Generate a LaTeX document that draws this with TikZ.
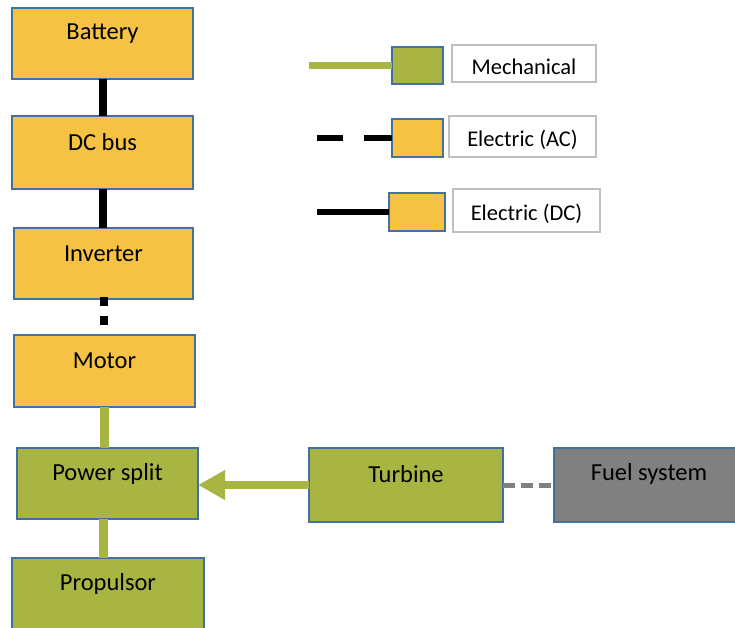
\documentclass[tikz,border=0pt]{standalone}
\usepackage{fontspec}
\setmainfont{Carlito}
\usetikzlibrary{arrows.meta}
\definecolor{gold}{HTML}{F5C243}
\definecolor{olive}{HTML}{A9B542}
\definecolor{fuelgray}{HTML}{808080}
\definecolor{edge}{HTML}{41719C}
\definecolor{lblgray}{HTML}{BFBFBF}
\begin{document}
\begin{tikzpicture}[x=1pt,y=-1pt,
  blk/.style={draw=edge, line width=1.8pt, inner sep=0pt, outer sep=0pt, anchor=north west},
  txt/.style={anchor=center, yshift=-26pt, font=\fontsize{24.5}{28}\selectfont, text=black},
  lbl/.style={draw=lblgray, line width=1.5pt, fill=white, inner sep=0pt, outer sep=0pt, anchor=north west},
  lbltxt/.style={anchor=center, yshift=-3pt, font=\fontsize{22.5}{26}\selectfont, text=black},
  dcline/.style={line width=8pt, black, line cap=butt},
  acline/.style={line width=8pt, black, line cap=butt, dash pattern=on 9pt off 10pt},
  mechline/.style={line width=9pt, olive, line cap=butt},
  fuelline/.style={line width=5pt, fuelgray, line cap=butt, dash pattern=on 12pt off 6pt},
  legline/.style={line width=6.5pt, line cap=butt}]
\useasboundingbox (0,0) rectangle (735,627);
\clip (0,0) rectangle (735,627);

\coordinate (cM) at (309,65.5);
\coordinate (cA) at (317,138);
\coordinate (cD) at (317,212);

% main boxes
\node[blk, fill=gold, minimum width=181pt, minimum height=71pt, label={[txt]north:Battery}] (bat) at (12,8) {};
\node[blk, fill=gold, minimum width=181pt, minimum height=73pt, label={[txt]north:DC bus}] (dc) at (12,116) {};
\node[blk, fill=gold, minimum width=179pt, minimum height=71pt, label={[txt]north:Inverter}] (inv) at (14,228) {};
\node[blk, fill=gold, minimum width=181pt, minimum height=72pt, label={[txt]north:Motor}] (mot) at (14,335) {};
\node[blk, fill=olive, minimum width=181pt, minimum height=71pt, label={[txt]north:Power split}] (ps) at (17,448) {};
\node[blk, fill=olive, minimum width=192pt, minimum height=100pt, label={[txt]north:Propulsor}] (prop) at (12,558) {};
\node[blk, fill=olive, minimum width=194pt, minimum height=74pt, label={[txt]north:Turbine}] (turb) at (309,448) {};
\node[blk, fill=fuelgray, minimum width=190pt, minimum height=74pt, label={[txt]north:Fuel system}] (fuel) at (554,448) {};

% legend
\node[blk, fill=olive, minimum width=51pt, minimum height=37pt] (sqM) at (392,47) {};
\node[lbl, minimum width=144pt, minimum height=37pt, label={[lbltxt]center:Mechanical}] (lblM) at (452,45) {};
\node[blk, fill=gold, minimum width=51pt, minimum height=38pt] (sqA) at (392,119) {};
\node[lbl, minimum width=147pt, minimum height=41pt, label={[lbltxt]center:Electric (AC)}] (lblA) at (449,116) {};
\node[blk, fill=gold, minimum width=56pt, minimum height=38pt] (sqD) at (389,193) {};
\node[lbl, minimum width=147pt, minimum height=43pt, label={[lbltxt]center:Electric (DC)}] (lblD) at (453,189) {};

% connectors
\draw[dcline] ([xshift=0.5pt]bat.south) -- ([xshift=0.5pt]dc.north);
\draw[dcline] ([xshift=0.5pt]dc.south) -- ([xshift=0.5pt]dc.south |- inv.north);
\draw[acline] ([yshift=2pt]inv.south) -- (inv.south |- mot.north);
\draw[mechline] (mot.south) -- (mot.south |- ps.north);
\draw[mechline] ([xshift=-4.5pt]ps.south) -- ([xshift=-4.5pt]ps.south |- prop.north);
\draw[line width=8pt, olive, -{Triangle[length=27pt,width=28pt]}] (turb.west) -- (turb.west -| ps.east);
\draw[fuelline] (turb.east) -- (turb.east -| fuel.west);

\draw[legline, olive] (sqM.west) -- (cM);
\draw[legline, black, dash pattern=on 28pt off 21pt] (sqA.west) -- (cA);
\draw[legline, black] (sqD.west) -- (cD);
\end{tikzpicture}
\end{document}
